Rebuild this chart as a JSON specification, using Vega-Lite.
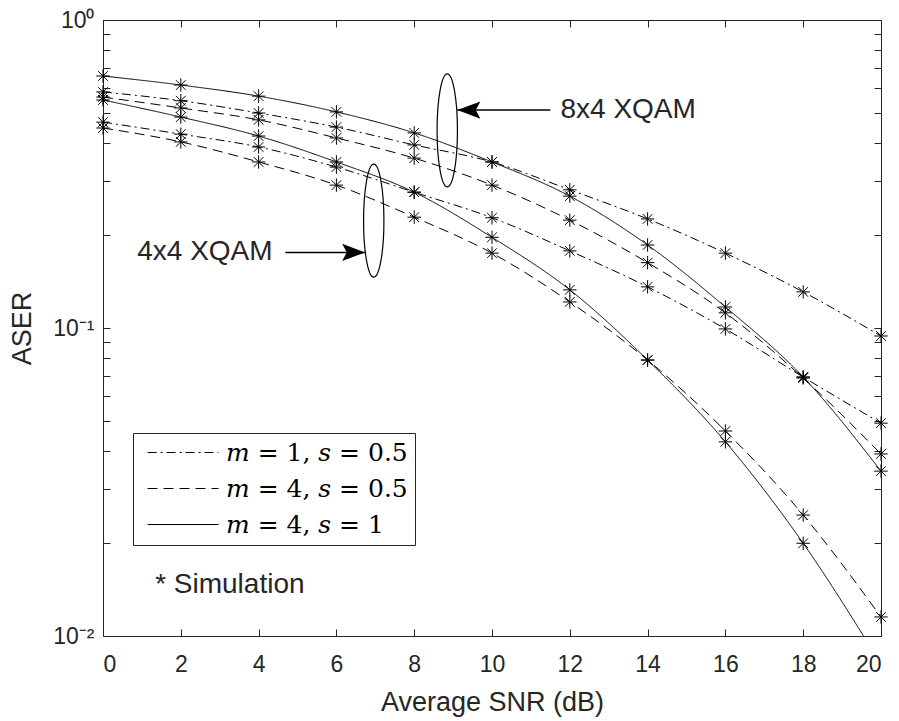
{
  "$schema": "https://vega.github.io/schema/vega-lite/v6.json",
  "width": 778,
  "height": 616,
  "autosize": "none",
  "padding": {"left": 103, "top": 20, "right": 18, "bottom": 85},
  "background": "white",
  "config": {
    "view": {"stroke": "#262626", "strokeWidth": 1},
    "font": "Liberation Sans",
    "axis": {"grid": false, "domain": false, "tickColor": "#262626", "labelColor": "#262626", "titleColor": "#262626", "labelFont": "Liberation Sans", "titleFont": "Liberation Sans", "labelFontSize": 23, "titleFontSize": 27, "titleFontWeight": "normal", "tickSize": -7, "tickWidth": 1}
  },
  "datasets": {
    "curves": [
      {"snr": 0, "aser": 0.658, "mod": "8x4", "param": "𝑚 = 4, 𝑠 = 1"},
      {"snr": 2, "aser": 0.615, "mod": "8x4", "param": "𝑚 = 4, 𝑠 = 1"},
      {"snr": 4, "aser": 0.566, "mod": "8x4", "param": "𝑚 = 4, 𝑠 = 1"},
      {"snr": 6, "aser": 0.503, "mod": "8x4", "param": "𝑚 = 4, 𝑠 = 1"},
      {"snr": 8, "aser": 0.430, "mod": "8x4", "param": "𝑚 = 4, 𝑠 = 1"},
      {"snr": 10, "aser": 0.346, "mod": "8x4", "param": "𝑚 = 4, 𝑠 = 1"},
      {"snr": 12, "aser": 0.268, "mod": "8x4", "param": "𝑚 = 4, 𝑠 = 1"},
      {"snr": 14, "aser": 0.186, "mod": "8x4", "param": "𝑚 = 4, 𝑠 = 1"},
      {"snr": 16, "aser": 0.117, "mod": "8x4", "param": "𝑚 = 4, 𝑠 = 1"},
      {"snr": 18, "aser": 0.0693, "mod": "8x4", "param": "𝑚 = 4, 𝑠 = 1"},
      {"snr": 20, "aser": 0.0343, "mod": "8x4", "param": "𝑚 = 4, 𝑠 = 1"},
      {"snr": 0, "aser": 0.584, "mod": "8x4", "param": "𝑚 = 1, 𝑠 = 0.5"},
      {"snr": 2, "aser": 0.547, "mod": "8x4", "param": "𝑚 = 1, 𝑠 = 0.5"},
      {"snr": 4, "aser": 0.499, "mod": "8x4", "param": "𝑚 = 1, 𝑠 = 0.5"},
      {"snr": 6, "aser": 0.449, "mod": "8x4", "param": "𝑚 = 1, 𝑠 = 0.5"},
      {"snr": 8, "aser": 0.393, "mod": "8x4", "param": "𝑚 = 1, 𝑠 = 0.5"},
      {"snr": 10, "aser": 0.346, "mod": "8x4", "param": "𝑚 = 1, 𝑠 = 0.5"},
      {"snr": 12, "aser": 0.281, "mod": "8x4", "param": "𝑚 = 1, 𝑠 = 0.5"},
      {"snr": 14, "aser": 0.226, "mod": "8x4", "param": "𝑚 = 1, 𝑠 = 0.5"},
      {"snr": 16, "aser": 0.175, "mod": "8x4", "param": "𝑚 = 1, 𝑠 = 0.5"},
      {"snr": 18, "aser": 0.131, "mod": "8x4", "param": "𝑚 = 1, 𝑠 = 0.5"},
      {"snr": 20, "aser": 0.0942, "mod": "8x4", "param": "𝑚 = 1, 𝑠 = 0.5"},
      {"snr": 0, "aser": 0.562, "mod": "8x4", "param": "𝑚 = 4, 𝑠 = 0.5"},
      {"snr": 2, "aser": 0.518, "mod": "8x4", "param": "𝑚 = 4, 𝑠 = 0.5"},
      {"snr": 4, "aser": 0.474, "mod": "8x4", "param": "𝑚 = 4, 𝑠 = 0.5"},
      {"snr": 6, "aser": 0.414, "mod": "8x4", "param": "𝑚 = 4, 𝑠 = 0.5"},
      {"snr": 8, "aser": 0.356, "mod": "8x4", "param": "𝑚 = 4, 𝑠 = 0.5"},
      {"snr": 10, "aser": 0.291, "mod": "8x4", "param": "𝑚 = 4, 𝑠 = 0.5"},
      {"snr": 12, "aser": 0.224, "mod": "8x4", "param": "𝑚 = 4, 𝑠 = 0.5"},
      {"snr": 14, "aser": 0.163, "mod": "8x4", "param": "𝑚 = 4, 𝑠 = 0.5"},
      {"snr": 16, "aser": 0.112, "mod": "8x4", "param": "𝑚 = 4, 𝑠 = 0.5"},
      {"snr": 18, "aser": 0.0688, "mod": "8x4", "param": "𝑚 = 4, 𝑠 = 0.5"},
      {"snr": 20, "aser": 0.039, "mod": "8x4", "param": "𝑚 = 4, 𝑠 = 0.5"},
      {"snr": 0, "aser": 0.550, "mod": "4x4", "param": "𝑚 = 4, 𝑠 = 1"},
      {"snr": 2, "aser": 0.484, "mod": "4x4", "param": "𝑚 = 4, 𝑠 = 1"},
      {"snr": 4, "aser": 0.420, "mod": "4x4", "param": "𝑚 = 4, 𝑠 = 1"},
      {"snr": 6, "aser": 0.346, "mod": "4x4", "param": "𝑚 = 4, 𝑠 = 1"},
      {"snr": 8, "aser": 0.276, "mod": "4x4", "param": "𝑚 = 4, 𝑠 = 1"},
      {"snr": 10, "aser": 0.197, "mod": "4x4", "param": "𝑚 = 4, 𝑠 = 1"},
      {"snr": 12, "aser": 0.133, "mod": "4x4", "param": "𝑚 = 4, 𝑠 = 1"},
      {"snr": 14, "aser": 0.0787, "mod": "4x4", "param": "𝑚 = 4, 𝑠 = 1"},
      {"snr": 16, "aser": 0.0427, "mod": "4x4", "param": "𝑚 = 4, 𝑠 = 1"},
      {"snr": 18, "aser": 0.0200, "mod": "4x4", "param": "𝑚 = 4, 𝑠 = 1"},
      {"snr": 20, "aser": 0.0081, "mod": "4x4", "param": "𝑚 = 4, 𝑠 = 1"},
      {"snr": 0, "aser": 0.466, "mod": "4x4", "param": "𝑚 = 1, 𝑠 = 0.5"},
      {"snr": 2, "aser": 0.426, "mod": "4x4", "param": "𝑚 = 1, 𝑠 = 0.5"},
      {"snr": 4, "aser": 0.387, "mod": "4x4", "param": "𝑚 = 1, 𝑠 = 0.5"},
      {"snr": 6, "aser": 0.333, "mod": "4x4", "param": "𝑚 = 1, 𝑠 = 0.5"},
      {"snr": 8, "aser": 0.276, "mod": "4x4", "param": "𝑚 = 1, 𝑠 = 0.5"},
      {"snr": 10, "aser": 0.228, "mod": "4x4", "param": "𝑚 = 1, 𝑠 = 0.5"},
      {"snr": 12, "aser": 0.178, "mod": "4x4", "param": "𝑚 = 1, 𝑠 = 0.5"},
      {"snr": 14, "aser": 0.136, "mod": "4x4", "param": "𝑚 = 1, 𝑠 = 0.5"},
      {"snr": 16, "aser": 0.0993, "mod": "4x4", "param": "𝑚 = 1, 𝑠 = 0.5"},
      {"snr": 18, "aser": 0.0693, "mod": "4x4", "param": "𝑚 = 1, 𝑠 = 0.5"},
      {"snr": 20, "aser": 0.0491, "mod": "4x4", "param": "𝑚 = 1, 𝑠 = 0.5"},
      {"snr": 0, "aser": 0.446, "mod": "4x4", "param": "𝑚 = 4, 𝑠 = 0.5"},
      {"snr": 2, "aser": 0.402, "mod": "4x4", "param": "𝑚 = 4, 𝑠 = 0.5"},
      {"snr": 4, "aser": 0.346, "mod": "4x4", "param": "𝑚 = 4, 𝑠 = 0.5"},
      {"snr": 6, "aser": 0.291, "mod": "4x4", "param": "𝑚 = 4, 𝑠 = 0.5"},
      {"snr": 8, "aser": 0.229, "mod": "4x4", "param": "𝑚 = 4, 𝑠 = 0.5"},
      {"snr": 10, "aser": 0.175, "mod": "4x4", "param": "𝑚 = 4, 𝑠 = 0.5"},
      {"snr": 12, "aser": 0.1215, "mod": "4x4", "param": "𝑚 = 4, 𝑠 = 0.5"},
      {"snr": 14, "aser": 0.0787, "mod": "4x4", "param": "𝑚 = 4, 𝑠 = 0.5"},
      {"snr": 16, "aser": 0.0463, "mod": "4x4", "param": "𝑚 = 4, 𝑠 = 0.5"},
      {"snr": 18, "aser": 0.0247, "mod": "4x4", "param": "𝑚 = 4, 𝑠 = 0.5"},
      {"snr": 20, "aser": 0.01153, "mod": "4x4", "param": "𝑚 = 4, 𝑠 = 0.5"}
    ],
    "ellipses": [
      {"snr": 8.85, "aser": 0.438, "group": "8x4 XQAM"},
      {"snr": 6.96, "aser": 0.223, "group": "4x4 XQAM"}
    ],
    "arrows": [
      {"snr": 9.11, "snr2": 11.5, "aser": 0.51, "group": "8x4 XQAM"},
      {"snr": 4.69, "snr2": 6.74, "aser": 0.176, "group": "4x4 XQAM"}
    ],
    "labels": [
      {"snr": 11.76, "aser": 0.51, "text": "8x4 XQAM", "side": "left"},
      {"snr": 1.34, "aser": 0.01468, "text": "* Simulation", "side": "left"},
      {"snr": 4.36, "aser": 0.176, "text": "4x4 XQAM", "side": "right"}
    ]
  },
  "layer": [
    {
      "data": {"name": "curves"},
      "mark": {"type": "line", "color": "black", "strokeWidth": 1, "clip": true, "interpolate": "monotone"},
      "encoding": {
        "x": {"field": "snr", "type": "quantitative", "scale": {"domain": [0, 20], "nice": false, "zero": false},
              "axis": {"orient": "bottom", "values": [0,2,4,6,8,10,12,14,16,18,20], "title": "Average SNR (dB)", "labelPadding": 24, "titlePadding": 13}},
        "y": {"field": "aser", "type": "quantitative", "scale": {"type": "log", "domain": [0.01, 1], "nice": false},
              "axis": {"orient": "left", "values": [0.01,0.02,0.03,0.04,0.05,0.06,0.07,0.08,0.09,0.1,0.2,0.3,0.4,0.5,0.6,0.7,0.8,0.9,1],
                       "labelExpr": "datum.value == 1 ? '10⁰' : datum.value == 0.1 ? '10⁻¹' : datum.value == 0.01 ? '10⁻²' : ''",
                       "title": "ASER", "labelPadding": 16, "titlePadding": 16}},
        "detail": {"field": "mod"},
        "strokeDash": {"field": "param", "type": "nominal",
          "scale": {"domain": ["𝑚 = 1, 𝑠 = 0.5", "𝑚 = 4, 𝑠 = 0.5", "𝑚 = 4, 𝑠 = 1"], "range": [[9, 4, 2, 4], [10, 6], [1, 0]]},
          "legend": {"orient": "none", "legendX": 30, "legendY": 413, "title": null,
                     "symbolType": "M-0.55,0L7.33,0", "symbolSize": 324,
                     "symbolStrokeWidth": 1.2, "symbolStrokeColor": "black", "symbolFillColor": "transparent",
                     "labelFont": "DejaVu Serif", "labelFontSize": 25,
                     "labelColor": "black", "strokeColor": "#262626", "fillColor": "white", "padding": 7, "rowPadding": 10,
                     "labelOffset": 61, "labelLimit": 400, "cornerRadius": 0}}
      }
    },
    {
      "data": {"name": "curves"},
      "transform": [{"filter": "datum.aser >= 0.01"}],
      "mark": {"type": "point", "shape": "M-1,0L1,0M0,-1L0,1M-0.72,-0.72L0.72,0.72M-0.72,0.72L0.72,-0.72", "filled": false, "stroke": "black", "strokeWidth": 1, "size": 180, "opacity": 1},
      "encoding": {
        "x": {"field": "snr", "type": "quantitative", "axis": {"orient": "top", "values": [0,2,4,6,8,10,12,14,16,18,20], "labels": false, "title": null}},
        "y": {"field": "aser", "type": "quantitative", "axis": {"orient": "right", "values": [0.01,0.02,0.03,0.04,0.05,0.06,0.07,0.08,0.09,0.1,0.2,0.3,0.4,0.5,0.6,0.7,0.8,0.9,1], "labels": false, "title": null}}
      }
    },
    {
      "data": {"name": "ellipses"},
      "mark": {"type": "point", "shape": "M0,-1A0.18,1,0,1,1,0,1A0.18,1,0,1,1,0,-1Z", "filled": false, "stroke": "black", "strokeWidth": 1.2, "size": 12769, "opacity": 1},
      "encoding": {
        "x": {"field": "snr", "type": "quantitative", "axis": null},
        "y": {"field": "aser", "type": "quantitative", "axis": null}
      }
    },
    {
      "data": {"name": "arrows"},
      "mark": {"type": "rule", "color": "black", "strokeWidth": 1.5},
      "encoding": {
        "x": {"field": "snr", "type": "quantitative", "axis": null},
        "x2": {"field": "snr2"},
        "y": {"field": "aser", "type": "quantitative", "axis": null}
      }
    },
    {
      "data": {"name": "arrows"},
      "transform": [{"filter": "datum.group == '8x4 XQAM'"}],
      "mark": {"type": "point", "shape": "M0,0L2,-0.75L1.6,0L2,0.75Z", "filled": true, "color": "black", "size": 529, "opacity": 1},
      "encoding": {
        "x": {"field": "snr", "type": "quantitative", "axis": null},
        "y": {"field": "aser", "type": "quantitative", "axis": null}
      }
    },
    {
      "data": {"name": "arrows"},
      "transform": [{"filter": "datum.group == '4x4 XQAM'"}],
      "mark": {"type": "point", "shape": "M0,0L-2,-0.75L-1.6,0L-2,0.75Z", "filled": true, "color": "black", "size": 529, "opacity": 1},
      "encoding": {
        "x": {"field": "snr2", "type": "quantitative", "axis": null},
        "y": {"field": "aser", "type": "quantitative", "axis": null}
      }
    },
    {
      "data": {"name": "labels"},
      "transform": [{"filter": "datum.side == 'left'"}],
      "mark": {"type": "text", "align": "left", "baseline": "middle", "font": "Liberation Sans", "fontSize": 28, "color": "#262626"},
      "encoding": {
        "x": {"field": "snr", "type": "quantitative", "axis": null},
        "y": {"field": "aser", "type": "quantitative", "axis": null},
        "text": {"field": "text"}
      }
    },
    {
      "data": {"name": "labels"},
      "transform": [{"filter": "datum.side == 'right'"}],
      "mark": {"type": "text", "align": "right", "baseline": "middle", "font": "Liberation Sans", "fontSize": 28, "color": "#262626"},
      "encoding": {
        "x": {"field": "snr", "type": "quantitative", "axis": null},
        "y": {"field": "aser", "type": "quantitative", "axis": null},
        "text": {"field": "text"}
      }
    }
  ],
  "resolve": {"axis": {"x": "independent", "y": "independent"}}
}
